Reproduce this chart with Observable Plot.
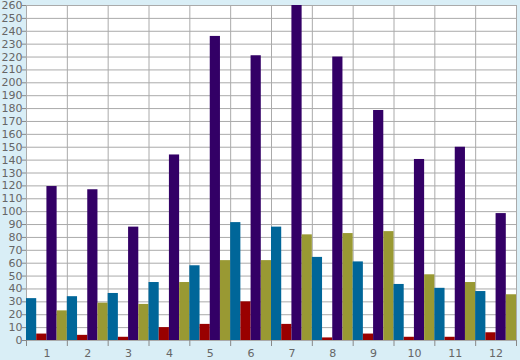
<!DOCTYPE html>
<html>
<head>
<meta charset="utf-8">
<script src="https://cdn.jsdelivr.net/npm/d3@7"></script>
<script src="https://cdn.jsdelivr.net/npm/@observablehq/plot@0.6"></script>
<style>
  html, body { margin: 0; padding: 0; background: #d9eef6; }
  #chart svg { display: block; }
</style>
</head>
<body>
<div id="chart"></div>
<script>
const categories = ["1","2","3","4","5","6","7","8","9","10","11","12"];
const seriesNames = ["Series A","Series B","Series C","Series D"];
const seriesColors = ["#006699","#990000","#330066","#999933"];
const seriesAValues = [32.5, 34, 36.5, 45, 58, 91.5, 88, 64.5, 61, 43.5, 40.5, 38];
const seriesBValues = [5, 4, 2.5, 10, 12.5, 30, 12.5, 2, 5, 2.5, 2.5, 6];
const seriesCValues = [119.5, 117, 88, 144, 236, 221, 260, 220, 178.5, 140.5, 150, 98.5];
const seriesDValues = [23, 29, 28, 45, 62, 62, 82, 83, 84.5, 51, 45, 35.5];
const yTicks = d3.range(0, 261, 10);

const allSeries = [seriesAValues, seriesBValues, seriesCValues, seriesDValues];
const data = [];
categories.forEach((c, i) => {
  allSeries.forEach((vals, k) => {
    const x1 = (i + 1) - 0.5 + k * 0.25;
    data.push({cat: c, series: seriesNames[k], x1, x2: x1 + 0.25, value: vals[i]});
  });
});
const boundaries = d3.range(0, categories.length + 1).map(i => i + 0.5);
const centers = categories.map((c, i) => i + 1);

const chart = Plot.plot({
  width: 520,
  height: 360,
  marginLeft: 26,
  marginRight: 4,
  marginTop: 5,
  marginBottom: 20,
  style: {background: "#d9eef6", fontFamily: "DejaVu Sans", fontSize: "11px", color: "#666"},
  x: {domain: [0.5, categories.length + 0.5], axis: null},
  y: {domain: [0, 260], axis: null},
  color: {domain: seriesNames, range: seriesColors},
  marks: [
    Plot.frame({fill: "white", stroke: null}),
    Plot.ruleY(yTicks, {stroke: "#aaa", strokeWidth: 1, strokeOpacity: 1}),
    Plot.ruleX(boundaries, {stroke: "#aaa", strokeWidth: 1, strokeOpacity: 1}),
    Plot.rectY(data, {x1: "x1", x2: "x2", y1: 0, y2: "value", fill: "series", inset: 0}),
    Plot.axisY({ticks: yTicks, tickSize: 4, tickPadding: 0, stroke: "#888", fill: "#666", label: null, tickFormat: d => String(d)}),
    Plot.axisX({ticks: boundaries, tickSize: 6, tickFormat: () => "", stroke: "#888", label: null}),
    Plot.axisX({ticks: centers, tickSize: 0, tickPadding: 9, tickFormat: (d) => categories[d - 1], fill: "#666", label: null})
  ]
});
document.getElementById("chart").appendChild(chart);
</script>
</body>
</html>
